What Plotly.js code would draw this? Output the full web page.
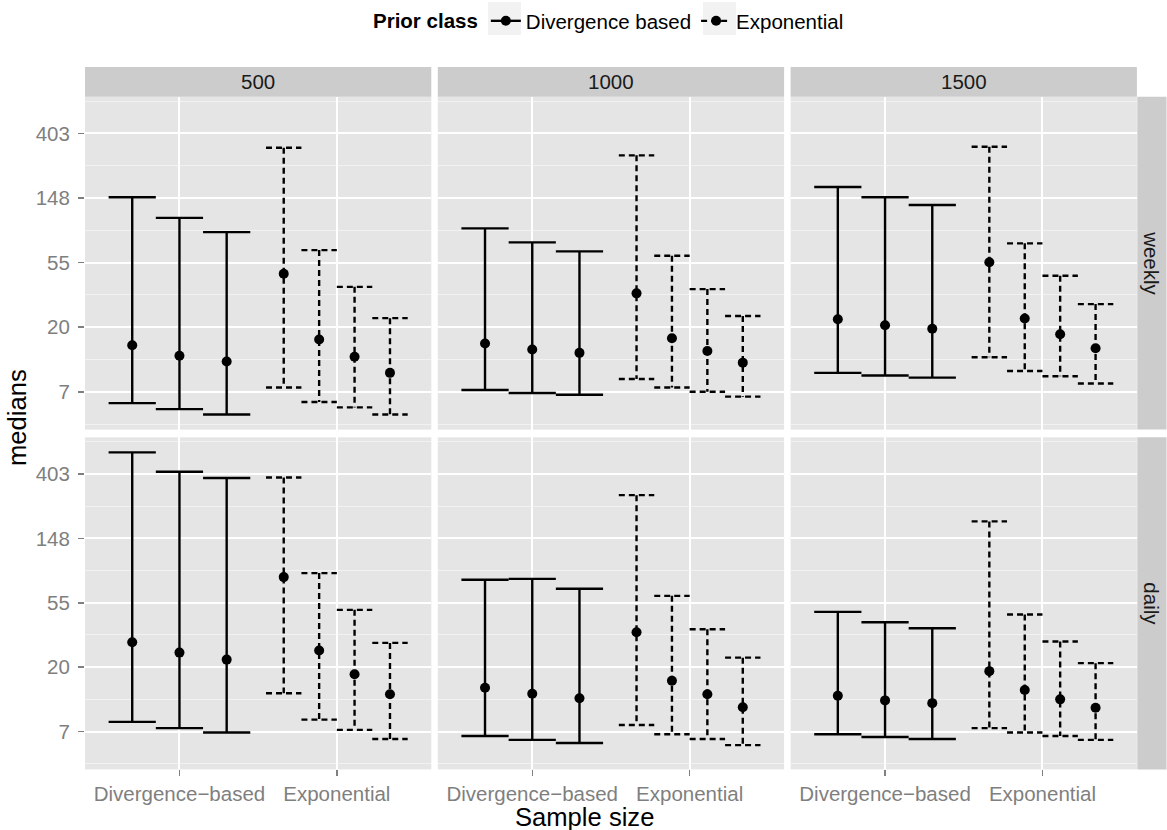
<!DOCTYPE html>
<html><head><meta charset="utf-8">
<script src="https://cdn.plot.ly/plotly-3.0.1.min.js"></script>
<style>html,body{margin:0;padding:0;background:#fff}</style>
</head><body><div id="chart" style="width:1167px;height:830px"></div>
<script>
// ---------------- data ----------------
const sampleSizes = ['500', '1000', '1500'];
const frequencies = ['weekly', 'daily'];
const priorClasses = ['Divergence based', 'Exponential'];
const xCategories = ['Divergence\u2212based', 'Exponential'];
const yTickLabels = ['7', '20', '55', '148', '403'];

// rows: sample size 500, 1000, 1500 ; columns: prior within class
const weeklyDivMedian = [[15.2, 12.9, 11.8], [15.6, 14.2, 13.5], [22.7, 20.7, 19.6]];
const weeklyDivLower  = [[6.2, 5.65, 5.2],   [7.6, 7.25, 7.05],  [9.9, 9.5, 9.2]];
const weeklyDivUpper  = [[150, 109, 87.5],   [92.7, 74.6, 64.9], [176, 150, 133]];

const weeklyExpMedian = [[45.9, 16.6, 12.7, 9.9], [33.9, 16.9, 13.9, 11.6], [54.8, 23.0, 18.0, 14.5]];
const weeklyExpLower  = [[7.9, 6.3, 5.8, 5.2],    [9.0, 7.9, 7.4, 6.85],    [12.6, 10.2, 9.4, 8.4]];
const weeklyExpUpper  = [[323, 66.2, 37.5, 23.1], [287, 60.7, 36.2, 23.9],  [328, 73.5, 44.5, 28.7]];

const dailyDivMedian = [[29.6, 25.2, 22.6], [14.6, 13.3, 12.4], [12.9, 12.0, 11.5]];
const dailyDivLower  = [[8.6, 7.8, 7.3],    [6.9, 6.5, 6.2],    [7.1, 6.8, 6.6]];
const dailyDivUpper  = [[563, 417, 378],    [78, 79.1, 67.8],   [47.4, 40.4, 36.8]];

const dailyExpMedian = [[81.3, 26.0, 18.0, 13.2], [34.6, 16.3, 13.2, 10.8], [18.9, 14.1, 12.2, 10.7]];
const dailyExpLower  = [[13.4, 8.9, 7.6, 6.6],    [8.2, 7.1, 6.6, 6.0],     [7.8, 7.3, 6.9, 6.5]];
const dailyExpUpper  = [[381, 86.5, 48.9, 29.3],  [290, 60.8, 36.2, 23.3],  [193, 45.5, 29.9, 21.4]];

// ---------------- layout helpers ----------------
const W = 1167, H = 830;
const FONT = 'Liberation Sans, Arial, Helvetica, sans-serif';
const colPx = [[85, 431.3], [437.8, 784.1], [790.6, 1136.9]];
const rowPx = [[96.7, 429.6], [437.3, 769.4]];
const px2x = p => p / W;
const px2y = p => 1 - p / H;

const series = {
  weekly: [[weeklyDivMedian, weeklyDivLower, weeklyDivUpper], [weeklyExpMedian, weeklyExpLower, weeklyExpUpper]],
  daily:  [[dailyDivMedian, dailyDivLower, dailyDivUpper],   [dailyExpMedian, dailyExpLower, dailyExpUpper]]
};

// y range (ggplot-like 5% expansion in log space)
let allVals = [];
frequencies.forEach(f => series[f].forEach(cls => cls.forEach(st => st.forEach(row => allVals.push(...row)))));
const lnMin = Math.log(Math.min(...allVals)), lnMax = Math.log(Math.max(...allVals));
const span = lnMax - lnMin;
const yRange = [(lnMin - 0.05 * span) / Math.LN10, (lnMax + 0.05 * span) / Math.LN10];
const yTickVals = [2, 3, 4, 5, 6].map(k => Math.exp(k));
const yMinorVals = [1.5, 2.5, 3.5, 4.5, 5.5, 6.5].map(k => Math.exp(k));

const lineStyles = [
  {color: '#000', width: 2.4, dash: 'solid'},
  {color: '#000', width: 2.4, dash: '6px,4px'}
];

const traces = [];
const layout = {
  width: W, height: H,
  margin: {l: 0, r: 0, t: 0, b: 0},
  paper_bgcolor: '#ffffff',
  plot_bgcolor: '#e5e5e5',
  font: {family: FONT, size: 20, color: '#000'},
  showlegend: true,
  legend: {
    orientation: 'h', x: 371 / W, xanchor: 'left', y: 1 - 1 / H, yanchor: 'top',
    traceorder: 'normal',
    bgcolor: 'rgba(0,0,0,0)', font: {family: FONT, size: 20.5, color: '#000'},
    title: {text: '<b>Prior class</b>', side: 'left', font: {family: FONT, size: 20.5, color: '#000'}},
    itemwidth: 30, itemclick: false, itemdoubleclick: false
  },
  shapes: [], annotations: []
};

// legend key backgrounds (ggplot-style grey key boxes)
[[488, 521], [703, 736]].forEach(b => {
  layout.shapes.push({type: 'rect', xref: 'paper', yref: 'paper',
    x0: px2x(b[0]), x1: px2x(b[1]), y0: px2y(35), y1: px2y(2),
    fillcolor: '#f2f2f2', line: {width: 0}, layer: 'below'});
});

frequencies.forEach((freq, r) => {
  sampleSizes.forEach((ss, c) => {
    const k = r * 3 + c + 1;
    const xa = 'x' + (k === 1 ? '' : k), ya = 'y' + (k === 1 ? '' : k);
    const xKey = 'xaxis' + (k === 1 ? '' : k), yKey = 'yaxis' + (k === 1 ? '' : k);
    layout[xKey] = {
      domain: [px2x(colPx[c][0]), px2x(colPx[c][1])], anchor: ya,
      range: [0.4, 2.6], tickmode: 'array', tickvals: [1, 2], ticktext: xCategories,
      showticklabels: r === 1, ticks: r === 1 ? 'outside' : '', ticklen: 6, tickwidth: 1.5, tickcolor: '#7f7f7f',
      tickfont: {family: FONT, size: 20.5, color: '#7f7f7f'},
      showgrid: true, gridcolor: '#ffffff', gridwidth: 2, zeroline: false, showline: false, fixedrange: true
    };
    layout[yKey] = {
      domain: [px2y(rowPx[r][1]), px2y(rowPx[r][0])], anchor: xa,
      type: 'log', range: yRange, tickmode: 'array', tickvals: yTickVals, ticktext: yTickLabels,
      showticklabels: c === 0, ticks: c === 0 ? 'outside' : '', ticklen: 6, tickwidth: 1.5, tickcolor: '#7f7f7f',
      ticklabelstandoff: 4,
      tickfont: {family: FONT, size: 20.5, color: '#7f7f7f'},
      showgrid: true, gridcolor: '#ffffff', gridwidth: 2, zeroline: false, showline: false, fixedrange: true,
      minor: {tickmode: 'array', tickvals: yMinorVals, showgrid: true, gridcolor: '#f2f2f2', gridwidth: 1, ticks: ''}
    };

    series[freq].forEach((cls, ci) => {
      const med = cls[0][c], lo = cls[1][c], hi = cls[2][c];
      const n = med.length, w = 0.9 / n, center = ci + 1;
      const ex = [], ey = [], mx = [];
      med.forEach((m, i) => {
        const xc = center + (i - (n - 1) / 2) * w;
        const x0 = xc - w / 2, x1 = xc + w / 2;
        ex.push(x0, x1, null, xc, xc, null, x0, x1, null);
        ey.push(hi[i], hi[i], null, hi[i], lo[i], null, lo[i], lo[i], null);
        mx.push(xc);
      });
      traces.push({type: 'scatter', mode: 'lines', x: ex, y: ey, xaxis: xa, yaxis: ya,
        line: lineStyles[ci], showlegend: false, hoverinfo: 'skip', name: priorClasses[ci]});
      traces.push({type: 'scatter', mode: 'markers', x: mx, y: med, xaxis: xa, yaxis: ya,
        marker: {color: '#000', size: 10}, showlegend: false, name: priorClasses[ci]});
    });

    // top strips (sample size)
    if (r === 0) {
      layout.shapes.push({type: 'rect', xref: 'paper', yref: 'paper',
        x0: px2x(colPx[c][0]), x1: px2x(colPx[c][1]), y0: px2y(96.7), y1: px2y(67),
        fillcolor: '#cccccc', line: {width: 0}, layer: 'below'});
      layout.annotations.push({xref: 'paper', yref: 'paper', x: px2x((colPx[c][0] + colPx[c][1]) / 2), y: px2y(82),
        text: ss, showarrow: false, xanchor: 'center', yanchor: 'middle',
        font: {family: FONT, size: 20.5, color: '#1a1a1a'}});
    }
    // right strips (frequency)
    if (c === 2) {
      layout.shapes.push({type: 'rect', xref: 'paper', yref: 'paper',
        x0: px2x(1137.3), x1: px2x(1166.5), y0: px2y(rowPx[r][1]), y1: px2y(rowPx[r][0]),
        fillcolor: '#cccccc', line: {width: 0}, layer: 'below'});
      layout.annotations.push({xref: 'paper', yref: 'paper', x: px2x(1152), y: px2y((rowPx[r][0] + rowPx[r][1]) / 2),
        text: freq, showarrow: false, textangle: 90, xanchor: 'center', yanchor: 'middle',
        font: {family: FONT, size: 20.5, color: '#1a1a1a'}});
    }
  });
});

// legend entries
priorClasses.forEach((pc, ci) => {
  traces.push({type: 'scatter', mode: 'lines+markers', x: [null], y: [null], name: pc,
    line: lineStyles[ci], marker: {color: '#000', size: 10}, showlegend: true, hoverinfo: 'skip'});
});

// axis titles
layout.annotations.push({xref: 'paper', yref: 'paper', x: px2x(584), y: px2y(817), text: 'Sample size',
  showarrow: false, xanchor: 'center', yanchor: 'middle', font: {family: FONT, size: 25.6, color: '#000'}});
layout.annotations.push({xref: 'paper', yref: 'paper', x: px2x(17), y: px2y(418), text: 'medians',
  showarrow: false, textangle: -90, xanchor: 'center', yanchor: 'middle', font: {family: FONT, size: 25.6, color: '#000'}});

Plotly.newPlot('chart', traces, layout, {displayModeBar: false, staticPlot: true});
</script></body></html>
